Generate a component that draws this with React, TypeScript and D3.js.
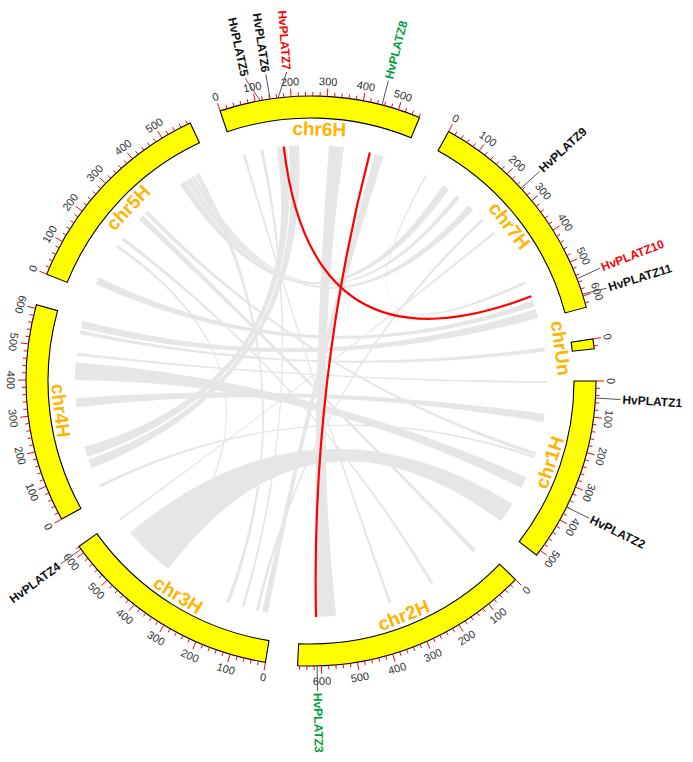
import React from "react";
import * as d3 from "d3";

// ---------- data ----------
const chromosomes = ["chr1H", "chr2H", "chr3H", "chr4H", "chr5H", "chr6H", "chr7H", "chrUn"];
const chromLengths = [516.5, 665.6, 621.5, 610.3, 588.2, 561.8, 632.5, 27.5];

const geneNames = ["HvPLATZ1", "HvPLATZ2", "HvPLATZ3", "HvPLATZ4", "HvPLATZ5", "HvPLATZ6", "HvPLATZ7", "HvPLATZ8", "HvPLATZ9", "HvPLATZ10", "HvPLATZ11"];
const geneChroms = ["chr1H", "chr1H", "chr2H", "chr3H", "chr6H", "chr6H", "chr6H", "chr6H", "chr7H", "chr7H", "chr7H"];
const genePositions = [47, 360, 612, 612, 114, 142, 164, 453, 255, 550, 595];
const geneGroups = ["none", "none", "green", "none", "none", "none", "red", "green", "none", "red", "none"];

// segmental duplication pairs (highlighted)
const dupSources = ["HvPLATZ7", "HvPLATZ8"];
const dupTargets = ["HvPLATZ10", "HvPLATZ3"];

// collinear blocks: [chrA, startA, endA, chrB, startB, endB] (Mb)
const syntenyLinks: [string, number, number, string, number, number][] = [
  ["chr3H", 385, 560, "chr1H", 430, 500],
  ["chr6H", 315, 365, "chr2H", 545, 610],
  ["chr4H", 400, 460, "chr1H", 330, 370],
  ["chr4H", 575, 600, "chr7H", 595, 625],
  ["chr4H", 555, 568, "chrUn", 4, 18],
  ["chr5H", 30, 55, "chr7H", 565, 585],
  ["chr5H", 470, 492, "chr7H", 70, 95],
  ["chr5H", 494, 512, "chr7H", 178, 200],
  ["chr5H", 514, 527, "chr7H", 125, 140],
  ["chr5H", 530, 545, "chr3H", 150, 162],
  ["chr6H", 470, 500, "chr3H", 18, 38],
  ["chr6H", 25, 33, "chr2H", 355, 364],
  ["chr5H", 290, 310, "chr2H", 20, 34],
  ["chr5H", 318, 332, "chr1H", 240, 252],
  ["chr4H", 310, 340, "chr1H", 110, 138],
  ["chr4H", 30, 40, "chr1H", 254, 262],
  ["chr4H", 482, 492, "chr1H", 0, 7],
  ["chr7H", 2, 8, "chr7H", 495, 505],
  ["chr6H", 140, 175, "chr4H", 140, 175],
  ["chr6H", 180, 215, "chr4H", 100, 130],
  ["chr7H", 240, 250, "chr3H", 50, 60],
  ["chr3H", 612, 618, "chr7H", 300, 308],
  ["chr6H", 85, 95, "chr3H", 100, 108],
  ["chr5H", 200, 212, "chr2H", 200, 210],
  ["chr5H", 170, 180, "chr3H", 410, 420],
];

// ---------- layout ----------
const W = 693;
const H = 762;
const CX = 311;
const CY = 381;
const R_OUT = 285;
const R_IN = 263;
const R_LINK = 236;
const GAP = 6.5;
const START_DEG = 0;

const groupColor: Record<string, string> = { none: "#111111", red: "#FF0000", green: "#00A040" };

const rad = (deg: number) => (deg * Math.PI) / 180;
const pt = (deg: number, r: number): [number, number] => [CX + r * Math.cos(rad(deg)), CY + r * Math.sin(rad(deg))];
const toD3 = (deg: number) => rad(deg + 90);
const norm = (deg: number) => ((deg % 360) + 360) % 360;

export default function App() {
  const total = d3.sum(chromLengths);
  const k = (360 - GAP * chromosomes.length) / total;
  let acc = START_DEG;
  const sectors = chromosomes.map((name, i) => {
    const len = chromLengths[i];
    const start = acc;
    const end = acc + len * k;
    acc = end + GAP;
    return { name, len, start, end, scale: d3.scaleLinear().domain([0, len]).range([start, end]) };
  });
  const byName = new Map(sectors.map((s) => [s.name, s]));
  const ang = (c: string, p: number) => byName.get(c)!.scale(p);

  const arcGen = d3.arc<any>();
  const ribbon = d3.ribbon<any, any>().radius(R_LINK);

  // gene labels with spreading
  const genes = geneNames.map((n, i) => ({
    name: n,
    a: ang(geneChroms[i], genePositions[i]),
    color: groupColor[geneGroups[i]],
    la: 0,
  }));
  genes.forEach((g) => (g.la = g.a));
  const sorted = [...genes].sort((p, q) => p.a - q.a);
  const minSep = 3.9;
  for (let it = 0; it < 60; it++) {
    for (let i = 1; i < sorted.length; i++) {
      const d = sorted[i].la - sorted[i - 1].la;
      if (d < minSep) {
        const push = (minSep - d) / 2;
        sorted[i].la += push;
        sorted[i - 1].la -= push;
      }
    }
  }
  const geneByName = new Map(genes.map((g) => [g.name, g]));

  const ticks: { a: number; major: boolean; v: number; flip: boolean }[] = [];
  sectors.forEach((s) => {
    for (let v = 0; v <= s.len + 1e-6; v += 20) {
      const a = s.scale(v);
      const na = norm(a);
      ticks.push({ a, major: v % 100 === 0, v, flip: na > 40 && na < 200 });
    }
  });

  return (
    <svg width={W} height={H} style={{ position: "absolute", left: 0, top: 0, background: "#fff" }} fontFamily="Liberation Sans, Arial, sans-serif">
      <g transform={`translate(${CX},${CY})`}>
        {syntenyLinks.map((l, i) => (
          <path
            key={"l" + i}
            d={ribbon({
              source: { startAngle: toD3(ang(l[0], l[1])), endAngle: toD3(ang(l[0], l[2])) },
              target: { startAngle: toD3(ang(l[3], l[4])), endAngle: toD3(ang(l[3], l[5])) },
            }) as any}
            fill="#E6E6E6"
          />
        ))}
      </g>
      {dupSources.map((s, i) => {
        const g1 = geneByName.get(s)!;
        const g2 = geneByName.get(dupTargets[i])!;
        const [x1, y1] = pt(g1.a, R_LINK);
        const [x2, y2] = pt(g2.a, R_LINK);
        const p = d3.path();
        p.moveTo(x1, y1);
        p.quadraticCurveTo(CX, CY, x2, y2);
        return <path key={"d" + i} d={p.toString()} fill="none" stroke="#FF0000" strokeWidth={2.2} />;
      })}
      <g transform={`translate(${CX},${CY})`}>
        {sectors.map((s) => (
          <path
            key={s.name}
            d={arcGen({ innerRadius: R_IN, outerRadius: R_OUT, startAngle: toD3(s.start), endAngle: toD3(s.end) }) as string}
            fill="#FFFF00"
            stroke="#000"
            strokeWidth={1.1}
          />
        ))}
      </g>
      {ticks.map((t, i) => {
        const [x1, y1] = pt(t.a, R_OUT);
        const [x2, y2] = pt(t.a, R_OUT + (t.major ? 8 : 4));
        return <line key={"t" + i} x1={x1} y1={y1} x2={x2} y2={y2} stroke="#FF0000" strokeWidth={1} />;
      })}
      {ticks
        .filter((t) => t.major)
        .map((t, i) => {
          const [x, y] = pt(t.a, R_OUT + 15);
          const rot = t.flip ? t.a - 90 : t.a + 90;
          return (
            <text key={"tl" + i} transform={`translate(${x},${y}) rotate(${rot})`} textAnchor="middle" dominantBaseline="central" fontSize={11} fill="#333">
              {t.v}
            </text>
          );
        })}
      {sectors.map((s) => {
        const mid = (s.start + s.end) / 2;
        const [x, y] = pt(mid, 252);
        const nm = norm(mid);
        const rot = nm > 0 && nm < 180 ? mid - 90 : mid + 90;
        return (
          <text key={"n" + s.name} transform={`translate(${x},${y}) rotate(${rot})`} textAnchor="middle" dominantBaseline="central" fontSize={19} fontWeight="bold" fill="#FFB400">
            {s.name}
          </text>
        );
      })}
      {genes.map((g) => {
        const [x1, y1] = pt(g.a, R_OUT);
        const [x2, y2] = pt(g.la, R_OUT + 25);
        const [tx, ty] = pt(g.la, R_OUT + 27);
        const nl = norm(g.la);
        const left = nl > 90 && nl < 270;
        const rot = left ? g.la - 180 : g.la;
        return (
          <g key={g.name}>
            <line x1={x1} y1={y1} x2={x2} y2={y2} stroke="#555" strokeWidth={1} />
            <text transform={`translate(${tx},${ty}) rotate(${rot})`} textAnchor={left ? "end" : "start"} dominantBaseline="central" fontSize={12} fontWeight="bold" fill={g.color}>
              {g.name}
            </text>
          </g>
        );
      })}
    </svg>
  );
}
